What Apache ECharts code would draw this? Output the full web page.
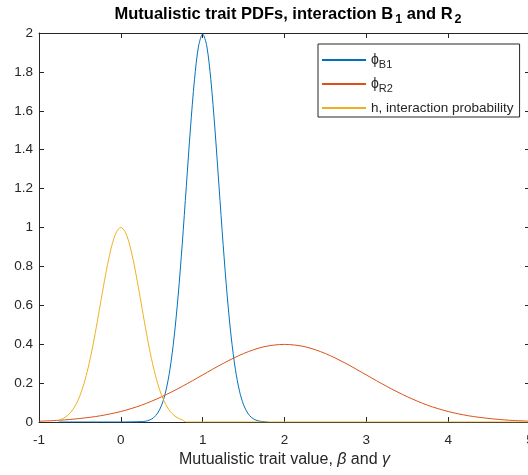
<!DOCTYPE html>
<html><head><meta charset="utf-8">
<script src="https://cdn.jsdelivr.net/npm/echarts@6/dist/echarts.min.js"></script>
<style>html,body{margin:0;padding:0;background:#fff}#c{width:528px;height:475px}</style>
</head><body><div id="c"></div><script>
// phi_B1 (blue)
const blueX = [-0.76, 0, 0.25, 0.3, 0.35, 0.4, 0.45, 0.5, 0.55, 0.6, 0.65, 0.7, 0.75, 0.8, 0.85, 0.9, 0.95, 1.0,
               1.05, 1.1, 1.15, 1.2, 1.25, 1.3, 1.35, 1.4, 1.45, 1.5, 1.55, 1.6, 1.65, 1.7, 1.75, 1.8];
const blueY = [0, 0, 0.002, 0.004, 0.010, 0.022, 0.046, 0.088, 0.159, 0.270, 0.432, 0.648, 0.913, 1.210, 1.506, 1.760, 1.933, 1.995,
               1.933, 1.760, 1.506, 1.210, 0.913, 0.648, 0.432, 0.270, 0.159, 0.088, 0.046, 0.022, 0.010, 0.004, 0.002, 0];
// phi_R2 (orange)
const orangeX = [-1, -0.75, -0.5, -0.25, 0, 0.25, 0.5, 0.75, 1, 1.25, 1.5, 1.75, 2, 2.25, 2.5, 2.75, 3, 3.25, 3.5, 3.75, 4, 4.25, 4.5, 4.75, 5];
const orangeY = [0.004, 0.009, 0.018, 0.032, 0.054, 0.086, 0.130, 0.183, 0.242, 0.301, 0.352, 0.387, 0.399, 0.387, 0.352, 0.301, 0.242, 0.183, 0.130, 0.086, 0.054, 0.032, 0.018, 0.009, 0.004];
// h, interaction probability (yellow)
const yellowX = [-0.75, -0.7, -0.65, -0.6, -0.55, -0.5, -0.45, -0.4, -0.35, -0.3, -0.25, -0.2, -0.15, -0.1, -0.05, 0,
                 0.05, 0.1, 0.15, 0.2, 0.25, 0.3, 0.35, 0.4, 0.45, 0.5, 0.55, 0.6, 0.65, 0.7, 0.75, 0.8, 5];
const yellowY = [0.011, 0.020, 0.034, 0.056, 0.089, 0.135, 0.198, 0.278, 0.375, 0.487, 0.607, 0.726, 0.835, 0.923, 0.980, 1,
                 0.980, 0.923, 0.835, 0.726, 0.607, 0.487, 0.375, 0.278, 0.198, 0.135, 0.089, 0.056, 0.034, 0.020, 0.011, 0, 0];
const xTicks = [-1, 0, 1, 2, 3, 4, 5];
const yTicks = [0, 0.2, 0.4, 0.6, 0.8, 1, 1.2, 1.4, 1.6, 1.8, 2];
const seriesNames = ['phiB1', 'phiR2', 'h'];
const legendLabels = {phiB1: ['ϕ', 'B1'], phiR2: ['ϕ', 'R2'], h: ['h, interaction probability', '']};

const zip = (xs, ys) => xs.map((x, i) => [x, ys[i]]);
const FONT = 'Liberation Sans';
const AX = '#262626';
const axisCommon = {
  type: 'value',
  axisLine: {show: true, onZero: false, lineStyle: {color: AX, width: 1}},
  axisTick: {show: true, inside: true, length: 5, lineStyle: {color: AX}},
  splitLine: {show: false},
};
const chart = echarts.init(document.getElementById('c'), null, {renderer: 'canvas'});
chart.setOption({
  animation: false,
  backgroundColor: '#fff',
  title: {
    text: '{a|Mutualistic trait PDFs, interaction B}{s|1}{a| and R}{s|2}',
    left: 283, top: -3, textAlign: 'center',
    textStyle: {rich: {
      a: {fontFamily: FONT, fontWeight: 'bold', fontSize: 16.5, color: '#000'},
      s: {fontFamily: FONT, fontWeight: 'bold', fontSize: 12.5, color: '#000', padding: [11, 0, 0, 2]}
    }}
  },
  grid: {left: 39, top: 33, width: 491, height: 389, containLabel: false, outerBoundsMode: 'none'},
  legend: {
    orient: 'vertical', left: 318, top: 44,
    padding: [9, 6, 2, 4], itemGap: 7, itemWidth: 44, itemHeight: 2, icon: 'rect',
    borderColor: AX, borderWidth: 1, backgroundColor: '#fff',
    data: seriesNames,
    formatter: n => legendLabels[n][1] ? '{p|' + legendLabels[n][0] + '}{s|' + legendLabels[n][1] + '}' : '{t|' + legendLabels[n][0] + '}',
    textStyle: {color: AX, rich: {
      p: {fontFamily: FONT, fontSize: 14, color: AX},
      s: {fontFamily: FONT, fontSize: 11, color: AX, padding: [9, 0, 0, 0]},
      t: {fontFamily: FONT, fontSize: 13.5, color: AX}
    }}
  },
  xAxis: [
    Object.assign({}, axisCommon, {
      min: xTicks[0], max: xTicks[xTicks.length - 1], interval: 1, position: 'bottom',
      axisLabel: {color: AX, fontFamily: FONT, fontSize: 13.5, margin: 11},
      name: '{t|Mutualistic trait value, }{g|β}{t| and }{g|γ}',
      nameLocation: 'middle', nameGap: 30,
      nameTextStyle: {rich: {
        t: {fontFamily: FONT, fontSize: 16, color: AX},
        g: {fontFamily: FONT, fontSize: 16, color: AX, fontStyle: 'italic'}
      }}
    }),
    Object.assign({}, axisCommon, {
      min: xTicks[0], max: xTicks[xTicks.length - 1], interval: 1, position: 'top',
      axisLabel: {show: false}
    })
  ],
  yAxis: [
    Object.assign({}, axisCommon, {
      min: yTicks[0], max: yTicks[yTicks.length - 1], interval: 0.2, position: 'left',
      axisLabel: {color: AX, fontFamily: FONT, fontSize: 13.5, margin: 6}
    }),
    Object.assign({}, axisCommon, {
      min: yTicks[0], max: yTicks[yTicks.length - 1], interval: 0.2, position: 'right',
      axisLabel: {show: false}
    })
  ],
  series: [
    {name: 'phiB1', type: 'line', data: zip(blueX, blueY), smooth: 0.3, showSymbol: false, symbol: 'none',
     lineStyle: {color: '#0072BD', width: 1}, itemStyle: {color: '#0072BD'}},
    {name: 'phiR2', type: 'line', data: zip(orangeX, orangeY), smooth: 0.3, showSymbol: false, symbol: 'none',
     lineStyle: {color: '#D95319', width: 1}, itemStyle: {color: '#D95319'}},
    {name: 'h', type: 'line', data: zip(yellowX, yellowY), smooth: 0.3, showSymbol: false, symbol: 'none',
     lineStyle: {color: '#EDB120', width: 1}, itemStyle: {color: '#EDB120'}}
  ]
});
</script></body></html>
